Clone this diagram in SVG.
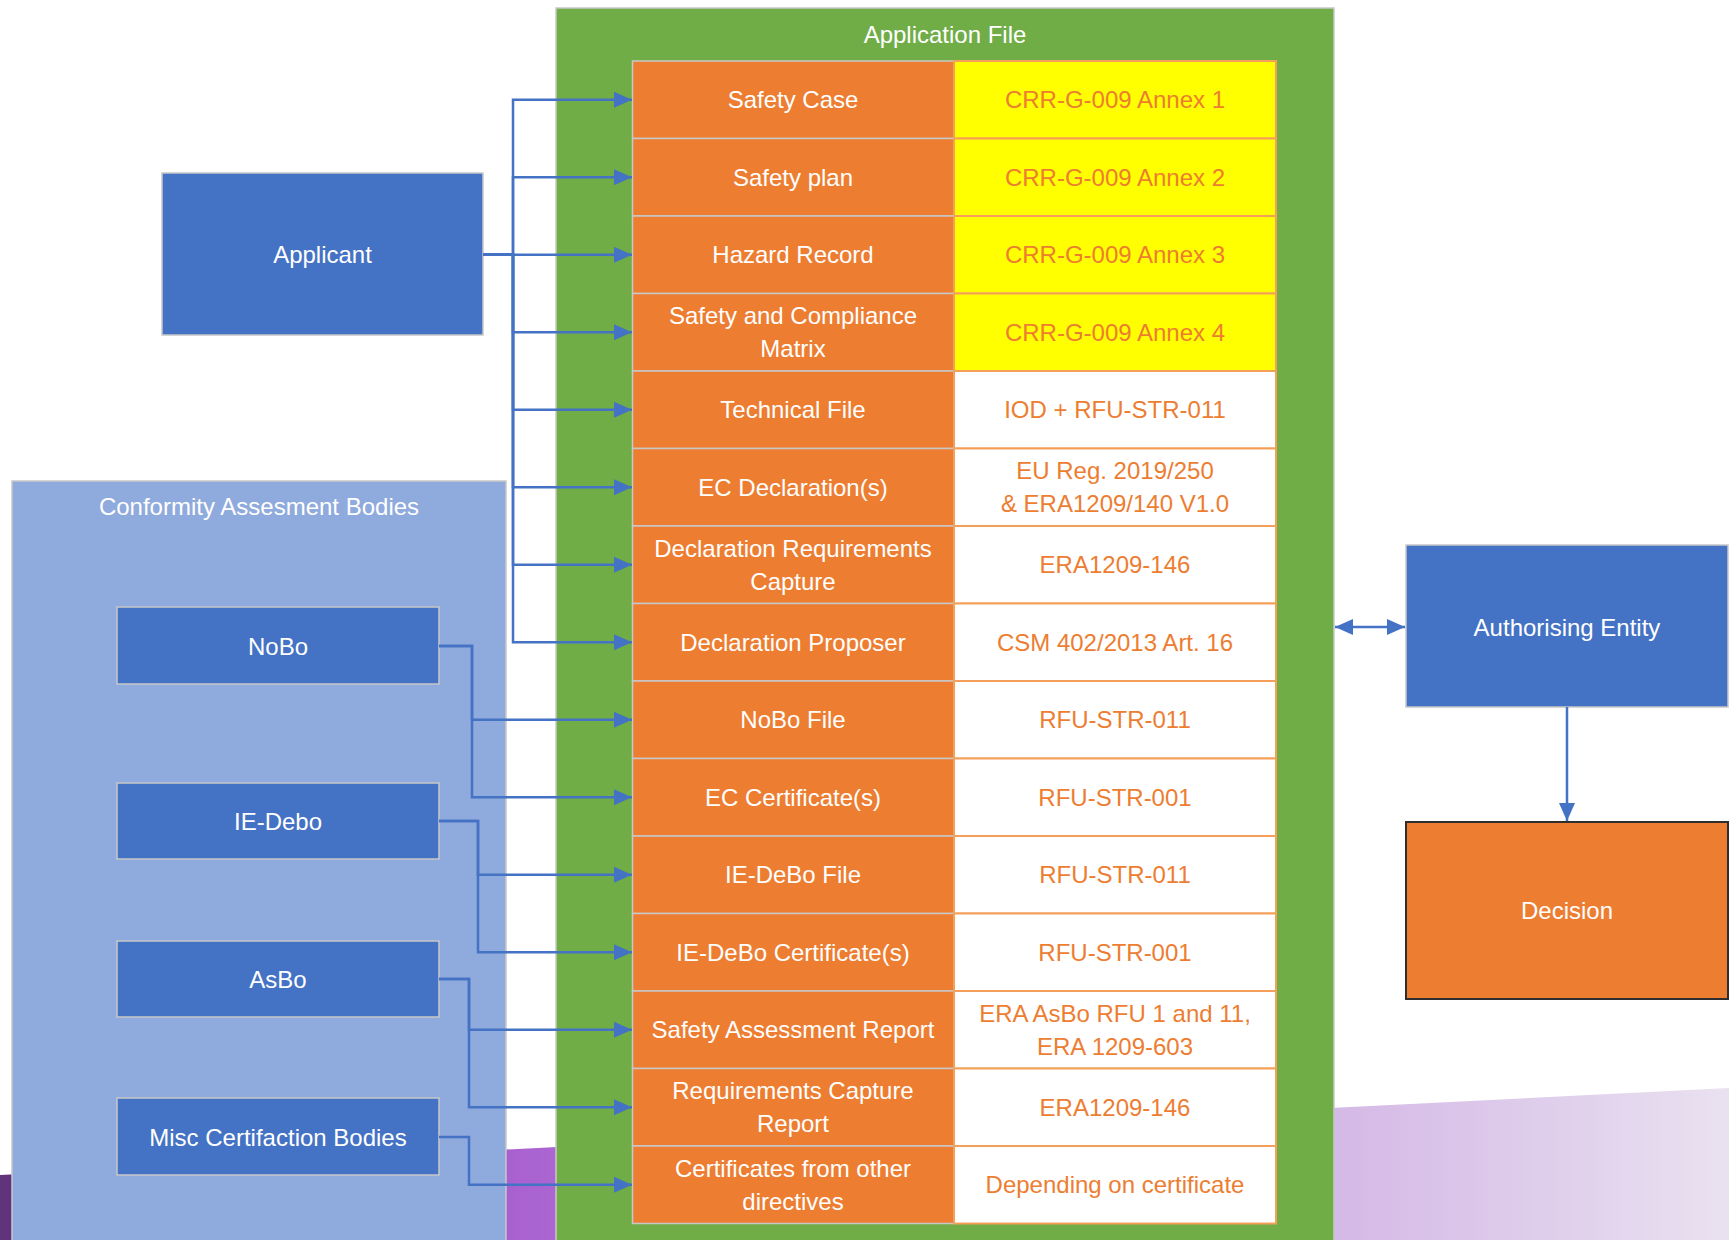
<svg xmlns="http://www.w3.org/2000/svg" width="1729" height="1240" viewBox="0 0 1729 1240">
<defs>
<linearGradient id="bg" x1="0" y1="0" x2="1729" y2="0" gradientUnits="userSpaceOnUse">
<stop offset="0" stop-color="#5E3379"/>
<stop offset="0.25" stop-color="#9A52C4"/>
<stop offset="0.3" stop-color="#A962D0"/>
<stop offset="0.77" stop-color="#D4B8E6"/>
<stop offset="1" stop-color="#E9E1F0"/>
</linearGradient>
<marker id="arr" markerUnits="userSpaceOnUse" markerWidth="18" markerHeight="16" refX="18" refY="8" orient="auto-start-reverse" viewBox="0 0 18 16">
<path d="M0,0 L18,8 L0,16 z" fill="#4472C4"/>
</marker>
<style>
text{font-family:"Liberation Sans",Arial,sans-serif;font-size:24px;text-anchor:middle;dominant-baseline:central}
.w{fill:#FFFFFF}
.o{fill:#ED7D31}
.node{fill:#4472C4;stroke:#C8C8C8;stroke-width:1.5}
.lc{fill:#ED7D31;stroke:#C8C8C8;stroke-width:1.5}
.ry{fill:#FFFF00;stroke:#F4A05A;stroke-width:2}
.rw{fill:#FFFFFF;stroke:#F4A05A;stroke-width:2}
.con{fill:none;stroke:#4472C4;stroke-width:2.5}
</style>
</defs>
<rect width="1729" height="1240" fill="#FFFFFF"/>
<polygon points="0,1175 1729,1088 1729,1240 0,1240" fill="url(#bg)"/>

<g id="conformity-bodies">
<rect x="12" y="481" width="494" height="770" fill="#8FAADC" stroke="#C8C8C8" stroke-width="1.5"/>
<text class="w" x="259" y="506">Conformity Assesment Bodies</text>
</g>

<g id="application-file">
<rect x="556" y="8" width="778" height="1240" fill="#70AD47" stroke="#C8C8C8" stroke-width="1.5"/>
<text class="w" x="945" y="34">Application File</text>
</g>

<g id="row-safety-case">
<rect class="lc" x="632.5" y="61" width="321.5" height="77.5"/>
<rect class="ry" x="954" y="61" width="322" height="77.5"/>
<text class="w" x="793" y="99.75">Safety Case</text>
<text class="o" x="1115" y="99.75">CRR-G-009 Annex 1</text>
</g>
<g id="row-safety-plan">
<rect class="lc" x="632.5" y="138.5" width="321.5" height="77.5"/>
<rect class="ry" x="954" y="138.5" width="322" height="77.5"/>
<text class="w" x="793" y="177.25">Safety plan</text>
<text class="o" x="1115" y="177.25">CRR-G-009 Annex 2</text>
</g>
<g id="row-hazard-record">
<rect class="lc" x="632.5" y="216" width="321.5" height="77.5"/>
<rect class="ry" x="954" y="216" width="322" height="77.5"/>
<text class="w" x="793" y="254.75">Hazard Record</text>
<text class="o" x="1115" y="254.75">CRR-G-009 Annex 3</text>
</g>
<g id="row-compliance-matrix">
<rect class="lc" x="632.5" y="293.5" width="321.5" height="77.5"/>
<rect class="ry" x="954" y="293.5" width="322" height="77.5"/>
<text class="w" x="793" y="315.75">Safety and Compliance</text>
<text class="w" x="793" y="348.75">Matrix</text>
<text class="o" x="1115" y="332.25">CRR-G-009 Annex 4</text>
</g>
<g id="row-technical-file">
<rect class="lc" x="632.5" y="371" width="321.5" height="77.5"/>
<rect class="rw" x="954" y="371" width="322" height="77.5"/>
<text class="w" x="793" y="409.75">Technical File</text>
<text class="o" x="1115" y="409.75">IOD + RFU-STR-011</text>
</g>
<g id="row-ec-declarations">
<rect class="lc" x="632.5" y="448.5" width="321.5" height="77.5"/>
<rect class="rw" x="954" y="448.5" width="322" height="77.5"/>
<text class="w" x="793" y="487.25">EC Declaration(s)</text>
<text class="o" x="1115" y="470.75">EU Reg. 2019/250</text>
<text class="o" x="1115" y="503.75">&amp; ERA1209/140 V1.0</text>
</g>
<g id="row-decl-req-capture">
<rect class="lc" x="632.5" y="526" width="321.5" height="77.5"/>
<rect class="rw" x="954" y="526" width="322" height="77.5"/>
<text class="w" x="793" y="548.25">Declaration Requirements</text>
<text class="w" x="793" y="581.25">Capture</text>
<text class="o" x="1115" y="564.75">ERA1209-146</text>
</g>
<g id="row-decl-proposer">
<rect class="lc" x="632.5" y="603.5" width="321.5" height="77.5"/>
<rect class="rw" x="954" y="603.5" width="322" height="77.5"/>
<text class="w" x="793" y="642.25">Declaration Proposer</text>
<text class="o" x="1115" y="642.25">CSM 402/2013 Art. 16</text>
</g>
<g id="row-nobo-file">
<rect class="lc" x="632.5" y="681" width="321.5" height="77.5"/>
<rect class="rw" x="954" y="681" width="322" height="77.5"/>
<text class="w" x="793" y="719.75">NoBo File</text>
<text class="o" x="1115" y="719.75">RFU-STR-011</text>
</g>
<g id="row-ec-certificates">
<rect class="lc" x="632.5" y="758.5" width="321.5" height="77.5"/>
<rect class="rw" x="954" y="758.5" width="322" height="77.5"/>
<text class="w" x="793" y="797.25">EC Certificate(s)</text>
<text class="o" x="1115" y="797.25">RFU-STR-001</text>
</g>
<g id="row-iedebo-file">
<rect class="lc" x="632.5" y="836" width="321.5" height="77.5"/>
<rect class="rw" x="954" y="836" width="322" height="77.5"/>
<text class="w" x="793" y="874.75">IE-DeBo File</text>
<text class="o" x="1115" y="874.75">RFU-STR-011</text>
</g>
<g id="row-iedebo-certificates">
<rect class="lc" x="632.5" y="913.5" width="321.5" height="77.5"/>
<rect class="rw" x="954" y="913.5" width="322" height="77.5"/>
<text class="w" x="793" y="952.25">IE-DeBo Certificate(s)</text>
<text class="o" x="1115" y="952.25">RFU-STR-001</text>
</g>
<g id="row-safety-assessment-report">
<rect class="lc" x="632.5" y="991" width="321.5" height="77.5"/>
<rect class="rw" x="954" y="991" width="322" height="77.5"/>
<text class="w" x="793" y="1029.75">Safety Assessment Report</text>
<text class="o" x="1115" y="1013.25">ERA AsBo RFU 1 and 11,</text>
<text class="o" x="1115" y="1046.25">ERA 1209-603</text>
</g>
<g id="row-req-capture-report">
<rect class="lc" x="632.5" y="1068.5" width="321.5" height="77.5"/>
<rect class="rw" x="954" y="1068.5" width="322" height="77.5"/>
<text class="w" x="793" y="1090.75">Requirements Capture</text>
<text class="w" x="793" y="1123.75">Report</text>
<text class="o" x="1115" y="1107.25">ERA1209-146</text>
</g>
<g id="row-other-certificates">
<rect class="lc" x="632.5" y="1146" width="321.5" height="77.5"/>
<rect class="rw" x="954" y="1146" width="322" height="77.5"/>
<text class="w" x="793" y="1168.25">Certificates from other</text>
<text class="w" x="793" y="1201.25">directives</text>
<text class="o" x="1115" y="1184.75">Depending on certificate</text>
</g>

<g id="applicant">
<rect class="node" x="162" y="173" width="321" height="162"/>
<text class="w" x="322.5" y="254">Applicant</text>
</g>
<g id="nobo">
<rect class="node" x="117" y="607" width="322" height="77"/>
<text class="w" x="278" y="646">NoBo</text>
</g>
<g id="ie-debo">
<rect class="node" x="117" y="783" width="322" height="76"/>
<text class="w" x="278" y="821">IE-Debo</text>
</g>
<g id="asbo">
<rect class="node" x="117" y="941" width="322" height="76"/>
<text class="w" x="278" y="979">AsBo</text>
</g>
<g id="misc-bodies">
<rect class="node" x="117" y="1098" width="322" height="77"/>
<text class="w" x="278" y="1137">Misc Certifaction Bodies</text>
</g>
<g id="authorising-entity">
<rect class="node" x="1406" y="545" width="322" height="162"/>
<text class="w" x="1567" y="627">Authorising Entity</text>
</g>
<g id="decision">
<rect x="1406" y="822" width="322" height="177" fill="#ED7D31" stroke="#2E2E2E" stroke-width="2"/>
<text class="w" x="1567" y="910">Decision</text>
</g>

<g id="connectors">
<path class="con" marker-end="url(#arr)" d="M483 254.5 H513 V99.75 H632"/>
<path class="con" marker-end="url(#arr)" d="M483 254.5 H513 V177.25 H632"/>
<path class="con" marker-end="url(#arr)" d="M483 254.5 H513 V254.75 H632"/>
<path class="con" marker-end="url(#arr)" d="M483 254.5 H513 V332.25 H632"/>
<path class="con" marker-end="url(#arr)" d="M483 254.5 H513 V409.75 H632"/>
<path class="con" marker-end="url(#arr)" d="M483 254.5 H513 V487.25 H632"/>
<path class="con" marker-end="url(#arr)" d="M483 254.5 H513 V564.75 H632"/>
<path class="con" marker-end="url(#arr)" d="M483 254.5 H513 V642.25 H632"/>
<path class="con" marker-end="url(#arr)" d="M439 646 H472 V719.75 H632"/>
<path class="con" marker-end="url(#arr)" d="M439 646 H472 V797.25 H632"/>
<path class="con" marker-end="url(#arr)" d="M439 821 H478 V874.75 H632"/>
<path class="con" marker-end="url(#arr)" d="M439 821 H478 V952.25 H632"/>
<path class="con" marker-end="url(#arr)" d="M439 979 H469 V1029.75 H632"/>
<path class="con" marker-end="url(#arr)" d="M439 979 H469 V1107.25 H632"/>
<path class="con" marker-end="url(#arr)" d="M439 1137 H469 V1184.75 H632"/>
<path class="con" marker-start="url(#arr)" marker-end="url(#arr)" d="M1335 627 H1405"/>
<path class="con" marker-end="url(#arr)" d="M1567 707 V821"/>
</g>
</svg>
